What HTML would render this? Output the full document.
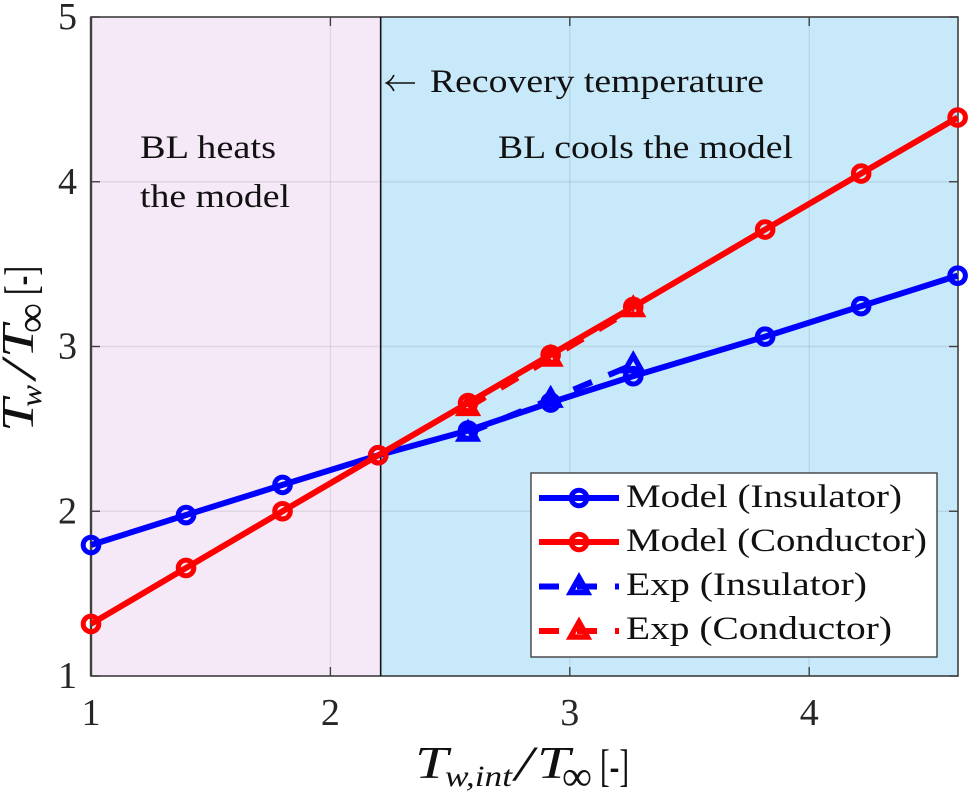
<!DOCTYPE html>
<html>
<head>
<meta charset="utf-8">
<style>
html,body{margin:0;padding:0;background:#fff;width:969px;height:791px;overflow:hidden}
svg{display:block}
text{font-family:"Liberation Serif","DejaVu Serif",serif;fill:#111}
.tick{font-size:38px;fill:#262626}
.ann{font-size:33px}
.leg{font-size:33px}
</style>
</head>
<body>
<svg id="chart" xmlns="http://www.w3.org/2000/svg" width="969" height="791" viewBox="0 0 969 791">
  <g id="regions"></g>
  <g id="grid"></g>
  <rect x="91" y="17" width="867" height="659" fill="none" stroke="#404040" stroke-width="1.6"/>
  <line x1="91" y1="17" x2="91" y2="676" stroke="#404040" stroke-width="2.4"/>
  <g id="ticks"></g>
  <g id="series"></g>

  <text class="ann" x="140" y="158" textLength="136" lengthAdjust="spacingAndGlyphs">BL heats</text>
  <text class="ann" x="140" y="207" textLength="150" lengthAdjust="spacingAndGlyphs">the model</text>
  <text class="ann" x="498" y="158" textLength="295" lengthAdjust="spacingAndGlyphs">BL cools the model</text>
  <g fill="none" stroke="#111" stroke-width="1.6">
    <path d="M387 83H415"/>
    <path d="M394 75Q391 81 386.500 83Q391 85 394 91"/>
  </g>
  <text class="ann" x="430" y="92" textLength="334" lengthAdjust="spacingAndGlyphs">Recovery temperature</text>

  <g>
    <text x="415" y="778" font-size="46" font-style="italic" textLength="33" lengthAdjust="spacingAndGlyphs">T</text>
    <text x="445" y="786" font-size="30" font-style="italic" textLength="67" lengthAdjust="spacingAndGlyphs">w,int</text>
    <text x="515" y="780" font-size="50" font-style="italic" textLength="18" lengthAdjust="spacingAndGlyphs">/</text>
    <text x="537" y="778" font-size="46" font-style="italic" textLength="33" lengthAdjust="spacingAndGlyphs">T</text>
    <text x="562" y="790" font-size="42" textLength="30" lengthAdjust="spacingAndGlyphs">∞</text>
    <text x="600" y="781" font-size="46" textLength="29" lengthAdjust="spacingAndGlyphs">[-]</text>
  </g>
  <g transform="translate(33 432) rotate(-90)">
    <text x="0" y="0" font-size="46" font-style="italic" textLength="33" lengthAdjust="spacingAndGlyphs">T</text>
    <text x="25" y="8" font-size="30" font-style="italic" textLength="22" lengthAdjust="spacingAndGlyphs">w</text>
    <text x="53" y="2" font-size="50" font-style="italic" textLength="18" lengthAdjust="spacingAndGlyphs">/</text>
    <text x="74" y="0" font-size="46" font-style="italic" textLength="33" lengthAdjust="spacingAndGlyphs">T</text>
    <text x="99" y="12" font-size="42" textLength="30" lengthAdjust="spacingAndGlyphs">∞</text>
    <text x="137" y="3" font-size="46" textLength="29" lengthAdjust="spacingAndGlyphs">[-]</text>
  </g>

  <g id="legend">
    <rect x="531" y="473" width="406" height="184" fill="#fff" stroke="#404040" stroke-width="1.4"/>
    <g id="legend-keys"></g>
    <text class="leg" x="626" y="507" textLength="276" lengthAdjust="spacingAndGlyphs">Model (Insulator)</text>
    <text class="leg" x="626" y="551" textLength="301" lengthAdjust="spacingAndGlyphs">Model (Conductor)</text>
    <text class="leg" x="626" y="595" textLength="241" lengthAdjust="spacingAndGlyphs">Exp (Insulator)</text>
    <text class="leg" x="626" y="639" textLength="266" lengthAdjust="spacingAndGlyphs">Exp (Conductor)</text>
  </g>
</svg>
<script>
var xTicks = [1, 2, 3, 4];
var yTicks = [1, 2, 3, 4, 5];
var recoveryX = [2.21];
var modelX = [1, 1.397, 1.8, 2.2, 2.575, 2.92, 3.265, 3.816, 4.217, 4.62];
var modelInsulator = [1.795, 1.977, 2.16, 2.34, 2.49, 2.66, 2.82, 3.06, 3.245, 3.43];
var modelConductor = [1.316, 1.656, 2.0, 2.34, 2.657, 2.95, 3.24, 3.71, 4.05, 4.39];
var expX = [2.575, 2.92, 3.265];
var expInsulator = [2.475, 2.68, 2.89];
var expConductor = [2.63, 2.93, 3.23];

var NS = 'http://www.w3.org/2000/svg';
function xs(v) { return 91 + (v - 1) * 239.4; }
function ys(v) { return 676 - (v - 1) * 164.75; }
function make(tag, parent, props) {
  var el = document.createElementNS(NS, tag);
  for (var k in props) { el.setAttribute(k, props[k]); }
  parent.appendChild(el);
  return el;
}
function circle(parent, x, y, color) {
  return make('circle', parent, {cx: x, cy: y, r: 7.8, fill: 'none', stroke: color, 'stroke-width': 5});
}
function triangle(parent, x, y, color) {
  var p = (x) + ',' + (y - 9) + ' ' + (x + 8.5) + ',' + (y + 6) + ' ' + (x - 8.5) + ',' + (y + 6);
  return make('polygon', parent, {points: p, fill: 'none', stroke: color, 'stroke-width': 5.4, 'stroke-miterlimit': 10});
}
function polyPoints(xv, yv) {
  return xv.map(function (v, i) { return xs(v) + ',' + ys(yv[i]); }).join(' ');
}

var regions = document.getElementById('regions');
var r1 = make('rect', regions, {x: xs(1), y: ys(5), width: xs(recoveryX[0]) - xs(1), height: ys(1) - ys(5), fill: '#f5e9f8'});


var r2 = make('rect', regions, {x: xs(recoveryX[0]), y: ys(5), width: 958 - xs(recoveryX[0]), height: ys(1) - ys(5), fill: '#c8e9fa'});



var grid = document.getElementById('grid');
var ticks = document.getElementById('ticks');
xTicks.forEach(function (t) {
  var g = make('line', grid, {x1: xs(t), x2: xs(t), y1: 17, y2: 676, stroke: '#000', 'stroke-opacity': 0.08, 'stroke-width': 1.4});
  
  
  var a = make('line', ticks, {x1: xs(t), x2: xs(t), y1: 676, y2: 667, stroke: '#404040', 'stroke-width': 1.4});
  
  
  var b = make('line', ticks, {x1: xs(t), x2: xs(t), y1: 17, y2: 26, stroke: '#404040', 'stroke-width': 1.4});
  
  
  var l = make('text', ticks, {x: xs(t), y: 725, 'text-anchor': 'middle', 'class': 'tick'});
  l.textContent = t;
  
  
});
yTicks.forEach(function (t) {
  var g = make('line', grid, {x1: 91, x2: 958, y1: ys(t), y2: ys(t), stroke: '#000', 'stroke-opacity': 0.08, 'stroke-width': 1.4});
  
  
  var a = make('line', ticks, {x1: 91, x2: 100, y1: ys(t), y2: ys(t), stroke: '#404040', 'stroke-width': 1.4});
  
  
  var b = make('line', ticks, {x1: 958, x2: 949, y1: ys(t), y2: ys(t), stroke: '#404040', 'stroke-width': 1.4});
  
  
  var l = make('text', ticks, {x: 77, y: ys(t) + 12, 'text-anchor': 'end', 'class': 'tick'});
  l.textContent = t;
  
  
});

var series = document.getElementById('series');
var rec = make('line', series, {x1: xs(recoveryX[0]), x2: xs(recoveryX[0]), y1: 17, y2: 676, stroke: '#111', 'stroke-width': 1.6});



var expIns = make('polyline', series, {points: polyPoints(expX, expInsulator), fill: 'none', stroke: '#0000ff', 'stroke-width': 6, 'stroke-dasharray': '20 18'});


expX.forEach(function (v, i) {
  var m = triangle(series, xs(v), ys(expInsulator[i]), '#0000ff');
  
  
});
var expCon = make('polyline', series, {points: polyPoints(expX, expConductor), fill: 'none', stroke: '#ff0000', 'stroke-width': 6, 'stroke-dasharray': '20 18'});


expX.forEach(function (v, i) {
  var m = triangle(series, xs(v), ys(expConductor[i]), '#ff0000');
  
  
});
var modIns = make('polyline', series, {points: polyPoints(modelX, modelInsulator), fill: 'none', stroke: '#0000ff', 'stroke-width': 6});


modelX.forEach(function (v, i) {
  var m = circle(series, xs(v), ys(modelInsulator[i]), '#0000ff');
  
  
});
var modCon = make('polyline', series, {points: polyPoints(modelX, modelConductor), fill: 'none', stroke: '#ff0000', 'stroke-width': 6});


modelX.forEach(function (v, i) {
  var m = circle(series, xs(v), ys(modelConductor[i]), '#ff0000');
  
  
});

var keys = document.getElementById('legend-keys');
var k1 = make('line', keys, {x1: 539, x2: 619, y1: 498, y2: 498, stroke: '#0000ff', 'stroke-width': 6});


var k1m = circle(keys, 579, 498, '#0000ff');


var k2 = make('line', keys, {x1: 539, x2: 619, y1: 542, y2: 542, stroke: '#ff0000', 'stroke-width': 6});


var k2m = circle(keys, 579, 542, '#ff0000');


var k3 = make('line', keys, {x1: 539, x2: 619, y1: 586.5, y2: 586.5, stroke: '#0000ff', 'stroke-width': 6, 'stroke-dasharray': '20 18'});


var k3m = triangle(keys, 579, 586.5, '#0000ff');


var k4 = make('line', keys, {x1: 539, x2: 619, y1: 631, y2: 631, stroke: '#ff0000', 'stroke-width': 6, 'stroke-dasharray': '20 18'});


var k4m = triangle(keys, 579, 631, '#ff0000');


</script>
</body>
</html>
